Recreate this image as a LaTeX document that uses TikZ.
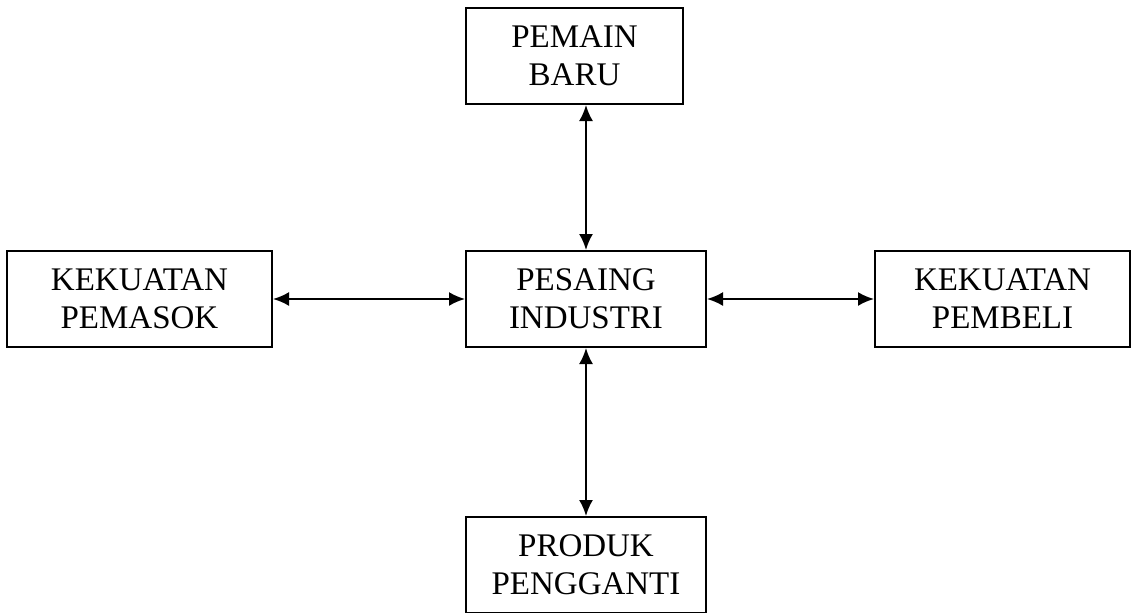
\documentclass[tikz,border=0pt]{standalone}
\usepackage{fontspec}
\setmainfont{Liberation Serif}
\usetikzlibrary{arrows.meta, positioning}
\tikzstyle{force} = [rectangle, draw, line width=1pt, minimum height=48pt, text centered, font=\fontsize{16.5}{19}\selectfont]
\tikzstyle{cable} = [line width=1pt, <->, >={Latex[length=8pt, width=7pt]}]

\begin{document}
\begin{tikzpicture}[align=center]
  \useasboundingbox (0,0) rectangle (568pt,-306pt);
  \node (pesaing) [force, minimum width=120pt] at (293pt,-149.5pt) {PESAING\\INDUSTRI};
  \node (pemasok) [force, minimum width=132.5pt, left=96pt of pesaing] {KEKUATAN\\PEMASOK};
  \node (pembeli) [force, minimum width=127.5pt, right=83.5pt of pesaing] {KEKUATAN\\PEMBELI};
  \node (pemain) [force, minimum width=108.5pt, above=72.5pt of pesaing.north west, anchor=south west] {PEMAIN\\BARU};
  \node (produk) [force, minimum width=120pt, below=84pt of pesaing] {PRODUK\\PENGGANTI};
  \draw [cable] (pesaing.north) -- (pesaing.north |- pemain.south);
  \draw [cable] (pesaing.west) -- (pemasok.east);
  \draw [cable] (pesaing.east) -- (pembeli.west);
  \draw [cable] (pesaing.south) -- (produk.north);
\end{tikzpicture}
\end{document}
